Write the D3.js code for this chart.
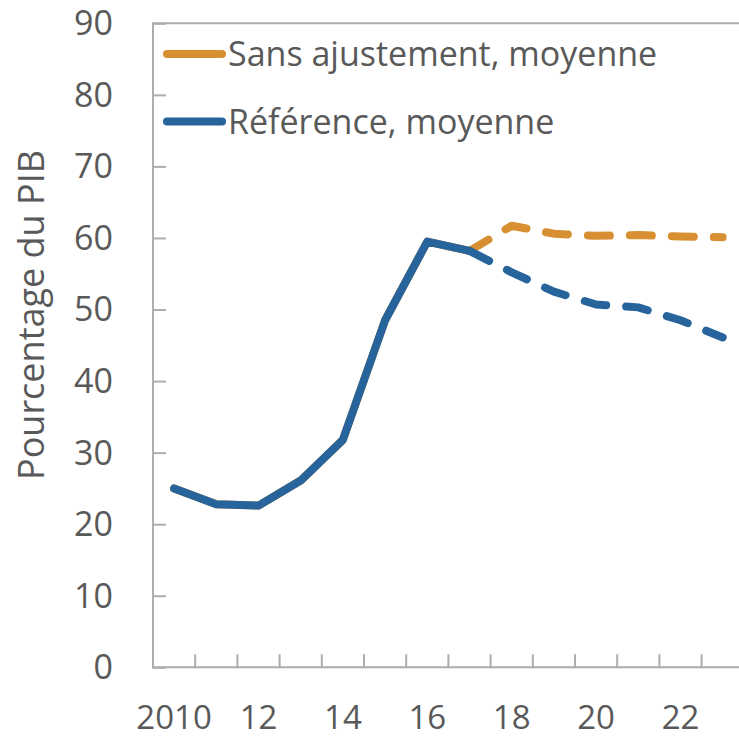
<!DOCTYPE html>
<html><head><meta charset="utf-8">
<script src="https://cdn.jsdelivr.net/npm/d3@7"></script>
<style>
html,body{margin:0;padding:0;background:#fff;overflow:hidden;}
svg{display:block;}
text{font-family:"Open Sans",sans-serif;fill:#595959;}
</style></head>
<body>
<svg id="chart" width="739" height="739"></svg>
<script>
const years = [2010,2011,2012,2013,2014,2015,2016,2017,2018,2019,2020,2021,2022,2023];
const xTickLabels = ["2010","","12","","14","","16","","18","","20","","22",""];
const reference = [25.0,22.8,22.6,26.1,31.8,48.5,59.5,58.2,55.2,52.5,50.7,50.3,48.5,46.1];
const sansAjustement = [25.0,22.8,22.6,26.1,31.8,48.5,59.5,58.2,61.7,60.6,60.3,60.4,60.2,60.1];
const lastActualYear = 2017;
const yTicks = [0,10,20,30,40,50,60,70,80,90];
const seriesNames = ["Sans ajustement, moyenne","Référence, moyenne"];
const colors = ["#D78F32","#27649B"];

const svg = d3.select("#chart");
const plotLeft = 153, plotTop = 23.3, plotBottom = 667.3, band = 42.2;
const x = d3.scaleBand().domain(years).range([plotLeft, plotLeft + band*years.length]);
const y = d3.scaleLinear().domain([0,90]).range([plotBottom, plotTop]);
const axisColor = "#ADADAD";

// top border
svg.append("line").attr("x1",plotLeft).attr("x2",800).attr("y1",y(90)).attr("y2",y(90))
  .attr("stroke",axisColor).attr("stroke-width",2);

// y axis
const yAxis = svg.append("g").attr("transform",`translate(${plotLeft},0)`)
  .call(d3.axisRight(y).tickValues(yTicks).tickSize(13).tickFormat(""));
yAxis.select(".domain").remove();
yAxis.selectAll("line").attr("stroke",axisColor).attr("stroke-width",2);
svg.append("line").attr("x1",plotLeft).attr("x2",plotLeft).attr("y1",y(90)-1).attr("y2",plotBottom+1)
  .attr("stroke",axisColor).attr("stroke-width",2);
svg.selectAll(".ylab").data(yTicks).join("text").attr("class","ylab")
  .attr("x",113).attr("y",d=>y(d)).attr("dy","0.35em").attr("text-anchor","end")
  .attr("font-size",34).text(d=>d);

// x axis
svg.append("line").attr("x1",plotLeft-1).attr("x2",800).attr("y1",plotBottom).attr("y2",plotBottom)
  .attr("stroke",axisColor).attr("stroke-width",2);
svg.selectAll(".xtick").data(years.slice(1)).join("line").attr("class","xtick")
  .attr("x1",d=>x(d)).attr("x2",d=>x(d)).attr("y1",plotBottom).attr("y2",plotBottom-13)
  .attr("stroke",axisColor).attr("stroke-width",2);
svg.selectAll(".xlab").data(years).join("text").attr("class","xlab")
  .attr("x",d=>x(d)+x.bandwidth()/2).attr("y",729).attr("text-anchor","middle")
  .attr("font-size",33).text((d,i)=>xTickLabels[i]);

// y title
svg.append("text").attr("transform","translate(44,315) rotate(-90)")
  .attr("text-anchor","middle").attr("font-size",36).text("Pourcentage du PIB");

const cx = d => x(d) + x.bandwidth()/2;
const line = d3.line().x(d=>cx(d.year)).y(d=>y(d.v));
function drawSeries(vals, color){
  const pts = years.map((yr,i)=>({year:yr, v:vals[i]}));
  const solid = pts.filter(p=>p.year<=lastActualYear);
  const dashed = pts.filter(p=>p.year>=lastActualYear);
  svg.append("path").attr("d",line(solid)).attr("fill","none").attr("stroke",color)
    .attr("stroke-width",8).attr("stroke-linejoin","round").attr("stroke-linecap","round");
  svg.append("path").attr("d",line(dashed)).attr("fill","none").attr("stroke",color)
    .attr("stroke-width",8).attr("stroke-linejoin","round").attr("stroke-linecap","round")
    .attr("stroke-dasharray","22 20");
}
drawSeries(sansAjustement, colors[0]);
drawSeries(reference, colors[1]);

// legend
const legY = [54, 121.5];
seriesNames.forEach((name,i)=>{
  svg.append("line").attr("x1",167).attr("x2",222).attr("y1",legY[i]).attr("y2",legY[i])
    .attr("stroke",colors[i]).attr("stroke-width",8).attr("stroke-linecap","round");
  svg.append("text").attr("x",228).attr("y",legY[i]+12).attr("font-size",34).text(name);
});
</script>
</body></html>
